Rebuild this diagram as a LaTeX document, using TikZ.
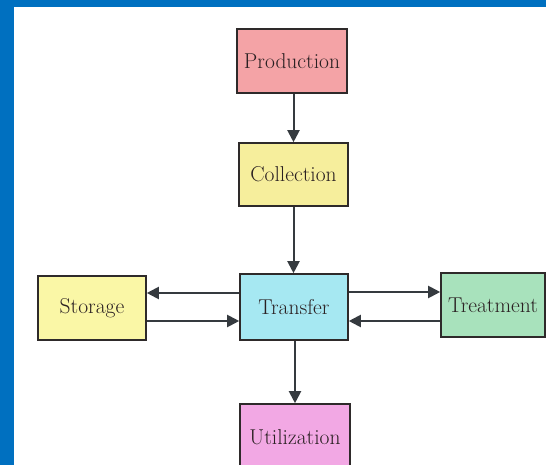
\documentclass[tikz,border=0pt]{standalone}
\usetikzlibrary{arrows.meta}
\definecolor{bluebg}{HTML}{0070C0}
\definecolor{cprod}{HTML}{F4A3A6}
\definecolor{ccoll}{HTML}{F6EE9C}
\definecolor{ctran}{HTML}{A6E8F2}
\definecolor{cstor}{HTML}{FAF7A6}
\definecolor{ctreat}{HTML}{A8E2BC}
\definecolor{cutil}{HTML}{F2A8E4}
\definecolor{edgec}{HTML}{2E2A2A}
\definecolor{arrc}{HTML}{353A3F}
\definecolor{txtc}{HTML}{2A2022}
\tikzset{
  box/.style={draw=edgec, line width=1.6pt, inner sep=0pt, text=txtc,
    font=\fontsize{21.5}{24}\selectfont},
  arr/.style={draw=arrc, line width=2pt, -{Triangle[length=12pt,width=12pt]}}
}
\begin{document}
\begin{tikzpicture}[x=1pt,y=-1pt]
\useasboundingbox (0,0) rectangle (546,465);
\clip (0,0) rectangle (546,465);
\fill[white] (0,0) rectangle (546,465);
\fill[bluebg] (0,0) rectangle (546,7);
\fill[bluebg] (0,0) rectangle (14,465);
\node[box, fill=cprod, minimum width=110pt, minimum height=64pt] (prod) at (292,61) {Production};
\node[box, fill=ccoll, minimum width=109pt, minimum height=63pt] (coll) at (293.5,174.5) {Collection};
\node[box, fill=ctran, minimum width=108pt, minimum height=66pt] (tran) at (294,307) {Transfer};
\node[box, fill=cstor, minimum width=108pt, minimum height=64pt] (stor) at (92,308) {Storage};
\node[box, fill=ctreat, minimum width=104pt, minimum height=64pt] (treat) at (493,305) {Treatment};
\node[box, fill=cutil, minimum width=110pt, minimum height=66pt] (util) at (295,437) {Utilization};
\draw[arr] (prod.south -| coll.north) -- (coll.north);
\draw[arr] (coll.south) -- (coll.south |- tran.north);
\draw[arr] (tran.south -| util.north) -- (util.north);
\draw[arr] ([yshift=14pt]tran.west) -- ([yshift=14pt]tran.west -| stor.east);
\draw[arr] ([yshift=-14pt]tran.west -| stor.east) -- ([yshift=-14pt]tran.west);
\draw[arr] ([yshift=15pt]tran.east) -- ([yshift=15pt]tran.east -| treat.west);
\draw[arr] ([yshift=-14pt]tran.east -| treat.west) -- ([yshift=-14pt]tran.east);
\end{tikzpicture}
\end{document}
